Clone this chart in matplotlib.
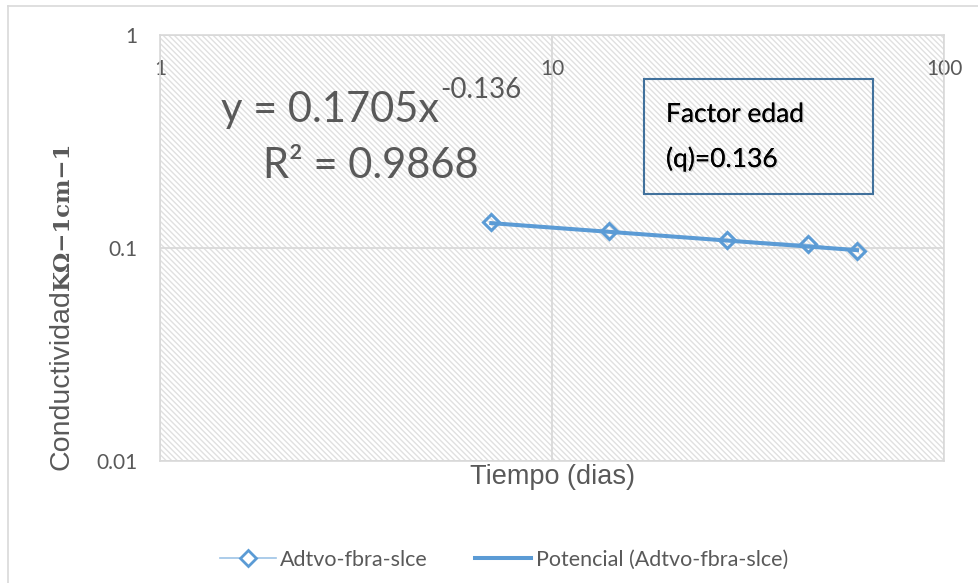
import matplotlib
matplotlib.use("Agg")
import matplotlib.pyplot as plt
import numpy as np
from matplotlib.patches import Rectangle
from matplotlib.lines import Line2D
import matplotlib.patheffects as pe

# datos de conductividad (aditivo + fibra + silice)
dias = [7, 14, 28, 45, 60]
conductividad = [0.132, 0.120, 0.109, 0.104, 0.097]

# ajuste potencial y = a * x^b
coef_a = 0.1705
coef_b = -0.136
r2 = 0.9868

x_ticks = [1, 10, 100]
x_tick_labels = ["1", "10", "100"]
y_ticks = [0.01, 0.1, 1]
y_tick_labels = ["0.01", "0.1", "1"]

azul = "#5B9BD5"
gris = "#595959"
gris_claro = "#D9D9D9"

plt.rcParams["hatch.linewidth"] = 1.0
plt.rcParams["hatch.color"] = "#E0E0E0"

W, H = 979, 583
fig = plt.figure(figsize=(W / 100, H / 100), dpi=100)
renderer = fig.canvas.get_renderer()

# borde exterior del grafico (solo izquierda y arriba)
fig.add_artist(Line2D([8 / W, 8 / W], [0, 1 - 6 / H], color=gris_claro, lw=1.2, transform=fig.transFigure))
fig.add_artist(Line2D([8 / W, 1], [1 - 6 / H, 1 - 6 / H], color=gris_claro, lw=1.2, transform=fig.transFigure))

ax = fig.add_axes([160 / W, 1 - 461 / H, 784 / W, 426 / H])
ax.set_xscale("log")
ax.set_yscale("log")
ax.set_xlim(1, 100)
ax.set_ylim(0.01, 1)

# fondo con trama diagonal fina
ax.add_patch(Rectangle((0, 0), 1, 1, transform=ax.transAxes, facecolor="white",
                       edgecolor="#E0E0E0", hatch="\\" * 6, lw=0, zorder=0))

ax.set_xticks(x_ticks, labels=x_tick_labels)
ax.set_yticks(y_ticks, labels=y_tick_labels)
ax.xaxis.set_minor_locator(matplotlib.ticker.NullLocator())
ax.yaxis.set_minor_locator(matplotlib.ticker.NullLocator())
ax.xaxis.set_ticks_position("top")
ax.tick_params(axis="x", labeltop=True, labelbottom=False, length=0, pad=-32,
               labelsize=15, labelcolor=gris)
ax.tick_params(axis="y", length=0, pad=16, labelsize=15, labelcolor=gris)
for lbl in ax.get_xticklabels() + ax.get_yticklabels():
    lbl.set_fontfamily("Lato")

ax.grid(True, color=gris_claro, lw=1.3)
ax.set_axisbelow(True)
for s in ax.spines.values():
    s.set_color(gris_claro)
    s.set_linewidth(1.2)

# serie de datos y linea de tendencia potencial
x_fit = np.array([min(dias), max(dias)])
y_fit = coef_a * x_fit ** coef_b
ax.plot(dias, conductividad, color="#9DC3E6", lw=0.8, zorder=2)
ax.plot(x_fit, y_fit, color=azul, lw=2.9, zorder=3)
ax.plot(dias, conductividad, ls="none", marker="D", ms=8.5, mew=2.2,
        mfc="none", mec=azul, zorder=4)

ax.set_xlabel("Tiempo (dias)", fontsize=19.5, color=gris, family="Liberation Sans", labelpad=2)

# titulo del eje y: texto normal + unidades en negrita serif
t1 = fig.text(62 / W, 1 - 470 / H, "Conductividad", rotation=90, ha="center", va="bottom",
              fontsize=20.5, color=gris, family="Liberation Sans")
h1 = t1.get_window_extent(renderer).height
fig.text(63 / W, 1 - (470 - h1 + 1) / H, "KΩ−1cm−1", rotation=90, ha="center", va="bottom",
         fontsize=16.5, color=gris, family="DejaVu Serif", weight="bold")

# ecuacion del ajuste
eq1 = fig.text(0, 1 - 122 / H, f"y = {coef_a}x", fontsize=30, color=gris, family="Lato",
               va="baseline", ha="left", zorder=5)
sup = fig.text(0, 1 - 98 / H, f"{coef_b}", fontsize=20, color=gris, family="Lato",
               va="baseline", ha="left", zorder=5)
w1 = eq1.get_window_extent(renderer).width
w2 = sup.get_window_extent(renderer).width
x0 = 371 - (w1 + w2) / 2
eq1.set_x(x0 / W)
sup.set_x((x0 + w1 + 1) / W)
fig.text(371 / W, 1 - 178 / H, f"R² = {r2}", fontsize=30, color=gris, family="Lato",
         va="baseline", ha="center", zorder=5)

# cuadro de texto
fig.add_artist(Rectangle((644 / W, 1 - 194 / H), 229 / W, 115 / H, transform=fig.transFigure,
                         facecolor="none", edgecolor="#41719C", lw=1.5))
sombra = [pe.withSimplePatchShadow(offset=(1, -1), shadow_rgbFace="#999999", alpha=0.35), pe.Normal()]
fig.text(666 / W, 1 - 122 / H, "Factor edad", fontsize=19, family="Lato", color="black",
         va="baseline", path_effects=sombra)
fig.text(666 / W, 1 - 167 / H, f"(q)={abs(coef_b)}", fontsize=19, family="Lato", color="black",
         va="baseline", path_effects=sombra)

handles = [
    Line2D([], [], color="#9DC3E6", lw=1.2, marker="D", ms=8, mew=2, mfc="white", mec=azul),
    Line2D([], [], color=azul, lw=2.9),
]
fig.legend(handles, ["Adtvo-fbra-slce", "Potencial (Adtvo-fbra-slce)"], ncol=2, loc="center",
           bbox_to_anchor=(504 / W, 1 - 560 / H), frameon=False, handlelength=2.6,
           handletextpad=0.2, columnspacing=2.2, prop={"family": "Lato", "size": 15.5},
           labelcolor=gris)

fig.savefig("out.png", dpi=100)
